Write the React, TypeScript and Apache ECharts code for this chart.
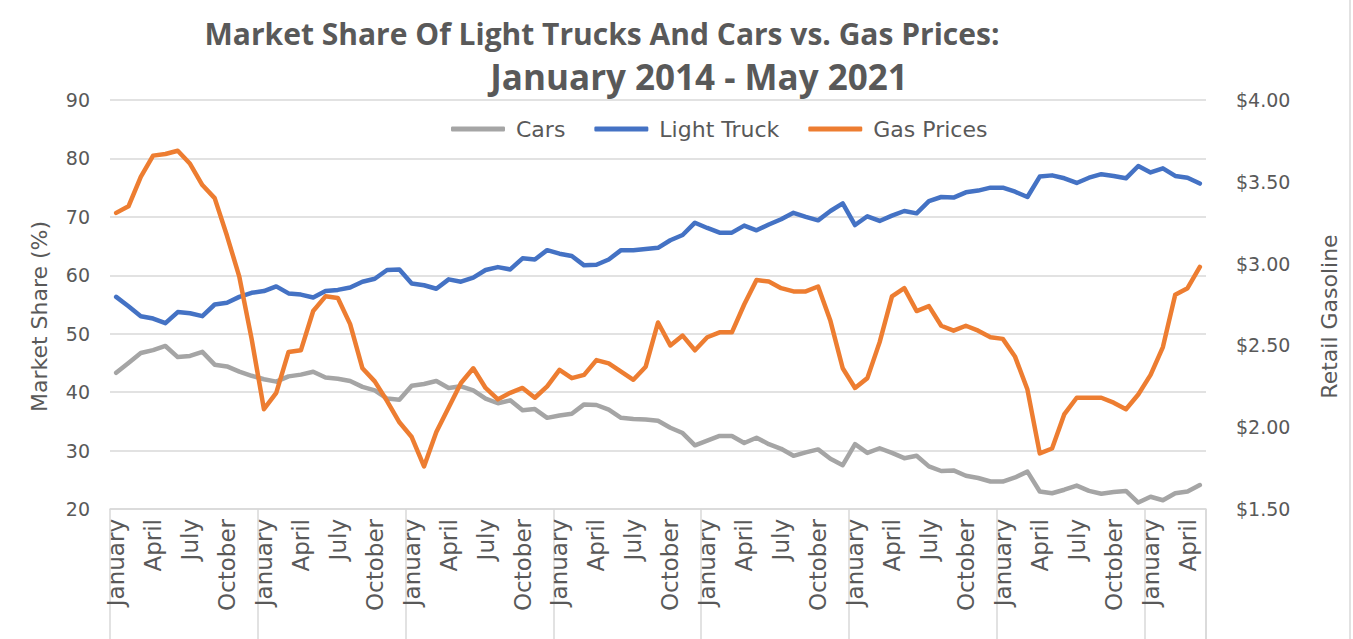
import React, { useEffect, useRef } from "react";
import * as echarts from "echarts";

const monthNames = ["January","February","March","April","May","June","July","August","September","October","November","December"];
const years = [2014, 2015, 2016, 2017, 2018, 2019, 2020, 2021];
const lastMonthCount = 5; // through May 2021

const categories: string[] = [];
years.forEach((y, yi) => {
  const n = yi === years.length - 1 ? lastMonthCount : 12;
  for (let m = 0; m < n; m++) categories.push(monthNames[m]);
});

const cars = [
  43.3, 45.0, 46.7, 47.2, 47.9, 46.0, 46.2, 46.9, 44.7, 44.4, 43.5, 42.8,
  42.2, 41.8, 42.7, 43.0, 43.5, 42.5, 42.3, 41.9, 40.9, 40.3, 38.9, 38.7,
  41.1, 41.4, 41.9, 40.7, 41.0, 40.3, 38.9, 38.1, 38.6, 36.9, 37.1, 35.6,
  36.0, 36.3, 37.9, 37.8, 37.0, 35.6, 35.4, 35.3, 35.1, 33.9, 33.0, 30.9,
  31.7, 32.5, 32.5, 31.3, 32.2, 31.1, 30.3, 29.1, 29.7, 30.2, 28.6, 27.5,
  31.1, 29.6, 30.4, 29.6, 28.7, 29.1, 27.3, 26.5, 26.6, 25.7, 25.3, 24.7,
  24.7, 25.4, 26.4, 23.0, 22.7, 23.3, 24.0, 23.1, 22.6, 22.9, 23.1, 21.1,
  22.1, 21.5, 22.7, 23.0, 24.1,
];

const lightTruck = [
  56.3, 54.7, 53.0, 52.6, 51.8, 53.7, 53.5, 53.0, 55.0, 55.3, 56.3, 57.0,
  57.3, 58.1, 56.9, 56.7, 56.2, 57.3, 57.5, 57.9, 58.9, 59.4, 60.9, 61.0,
  58.6, 58.3, 57.7, 59.3, 58.9, 59.6, 60.9, 61.4, 61.0, 62.9, 62.7, 64.3,
  63.7, 63.3, 61.7, 61.8, 62.7, 64.3, 64.3, 64.5, 64.7, 66.0, 66.9, 69.0,
  68.1, 67.3, 67.3, 68.5, 67.7, 68.7, 69.6, 70.7, 70.0, 69.4, 71.0, 72.3,
  68.6, 70.1, 69.3, 70.2, 71.0, 70.6, 72.7, 73.4, 73.3, 74.2, 74.5, 75.0,
  75.0, 74.3, 73.4, 76.9, 77.1, 76.6, 75.8, 76.7, 77.3, 77.0, 76.6, 78.7,
  77.6, 78.3, 77.0, 76.7, 75.7,
];

const gasPrices = [
  3.31, 3.35, 3.53, 3.66, 3.67, 3.69, 3.61, 3.48, 3.40, 3.17, 2.92, 2.54,
  2.11, 2.21, 2.46, 2.47, 2.71, 2.80, 2.79, 2.63, 2.36, 2.28, 2.16, 2.03,
  1.94, 1.76, 1.97, 2.12, 2.27, 2.36, 2.24, 2.17, 2.21, 2.24, 2.18, 2.25,
  2.35, 2.30, 2.32, 2.41, 2.39, 2.34, 2.29, 2.37, 2.64, 2.50, 2.56, 2.47,
  2.55, 2.58, 2.58, 2.75, 2.90, 2.89, 2.85, 2.83, 2.83, 2.86, 2.65, 2.36,
  2.24, 2.30, 2.52, 2.80, 2.85, 2.71, 2.74, 2.62, 2.59, 2.62, 2.59, 2.55,
  2.54, 2.43, 2.23, 1.84, 1.87, 2.08, 2.18, 2.18, 2.18, 2.15, 2.11, 2.20,
  2.32, 2.49, 2.81, 2.85, 2.98,
];

const titleLine1 = "Market Share Of Light Trucks And Cars vs. Gas Prices:";
const titleLine2 = "January 2014 - May 2021";
const seriesNames = ["Cars", "Light Truck", "Gas Prices"];
const seriesColors = ["#A5A5A5", "#4472C4", "#ED7D31"];
const leftAxisName = "Market Share (%)";
const rightAxisName = "Retail Gasoline";

const TITLE_FONT = "'Open Sans', sans-serif";
const FONT = "'DejaVu Sans', sans-serif";
const TEXT = "#595959";
const GRID = "#D9D9D9";
const GRID_LEFT = 110;
const GRID_RIGHT = 147;
const GRID_TOP = 100;
const GRID_BOTTOM = 130;
const W = 1353;
const H = 639;

export default function App() {
  const ref = useRef<HTMLDivElement>(null);
  useEffect(() => {
    document.body.style.margin = "0";
    if (!ref.current) return;
    const chart = echarts.init(ref.current, null, { renderer: "svg" });
    const lineStyle = (color: string) => ({ color, width: 4.5, cap: "round", join: "round" });
    const plotRight = W - GRID_RIGHT;
    const plotBottom = H - GRID_BOTTOM;
    chart.setOption({
      animation: false,
      backgroundColor: "#ffffff",
      textStyle: { fontFamily: FONT },
      graphic: [
        {
          type: "text",
          x: 602,
          y: 18,
          style: { text: titleLine1, textAlign: "center", fill: TEXT, font: `bold 30px ${TITLE_FONT}` },
        },
        {
          type: "text",
          x: 699,
          y: 59,
          style: { text: titleLine2, textAlign: "center", fill: TEXT, font: `bold 35px ${TITLE_FONT}` },
        },
        {
          type: "line",
          shape: { x1: plotRight, y1: plotBottom, x2: plotRight, y2: H },
          style: { stroke: GRID, lineWidth: 1.5 },
        },
        {
          type: "line",
          shape: { x1: 1350, y1: 0, x2: 1350, y2: H },
          style: { stroke: GRID, lineWidth: 1.5 },
        },
      ],
      legend: {
        left: 446,
        top: 113,
        icon: "roundRect",
        itemWidth: 54,
        itemHeight: 5,
        itemGap: 29,
        textStyle: { color: TEXT, fontSize: 22, fontFamily: FONT, padding: [0, 0, 0, 6] },
        data: seriesNames,
      },
      grid: { left: GRID_LEFT, right: GRID_RIGHT, top: GRID_TOP, bottom: GRID_BOTTOM, containLabel: false },
      xAxis: {
        type: "category",
        data: categories,
        boundaryGap: true,
        axisLine: { show: true, lineStyle: { color: GRID, width: 1.5 } },
        axisTick: {
          show: true,
          length: 135,
          interval: (i: number) => i % 12 === 0,
          lineStyle: { color: GRID, width: 1.5 },
        },
        axisLabel: {
          interval: (i: number) => i % 3 === 0,
          rotate: 90,
          color: TEXT,
          fontSize: 23,
          fontFamily: FONT,
          margin: 10,
        },
        splitLine: { show: false },
      },
      yAxis: [
        {
          type: "value",
          min: 20,
          max: 90,
          interval: 10,
          name: leftAxisName,
          nameLocation: "middle",
          nameGap: 60,
          nameTextStyle: { color: TEXT, fontSize: 22, fontFamily: FONT, padding: [0, 24, 0, 0] },
          axisLine: { show: false },
          axisTick: { show: false },
          axisLabel: { color: TEXT, fontSize: 19, margin: 20, fontFamily: FONT },
          splitLine: { show: true, lineStyle: { color: GRID, width: 1.5 } },
        },
        {
          type: "value",
          min: 1.5,
          max: 4,
          interval: 0.5,
          name: rightAxisName,
          nameLocation: "middle",
          nameGap: 112,
          nameRotate: 90,
          nameTextStyle: { color: TEXT, fontSize: 22, fontFamily: FONT, padding: [0, 24, 0, 0] },
          axisLine: { show: false },
          axisTick: { show: false },
          axisLabel: {
            color: TEXT,
            fontSize: 19,
            margin: 30,
            fontFamily: FONT,
            formatter: (v: number) => "$" + v.toFixed(2),
          },
          splitLine: { show: false },
        },
      ],
      series: [
        { name: seriesNames[0], type: "line", data: cars, yAxisIndex: 0, symbol: "none", lineStyle: lineStyle(seriesColors[0]), itemStyle: { color: seriesColors[0] } },
        { name: seriesNames[1], type: "line", data: lightTruck, yAxisIndex: 0, symbol: "none", lineStyle: lineStyle(seriesColors[1]), itemStyle: { color: seriesColors[1] } },
        { name: seriesNames[2], type: "line", data: gasPrices, yAxisIndex: 1, symbol: "none", lineStyle: lineStyle(seriesColors[2]), itemStyle: { color: seriesColors[2] } },
      ],
    });
    return () => chart.dispose();
  }, []);
  return <div ref={ref} style={{ width: W, height: H }} />;
}
